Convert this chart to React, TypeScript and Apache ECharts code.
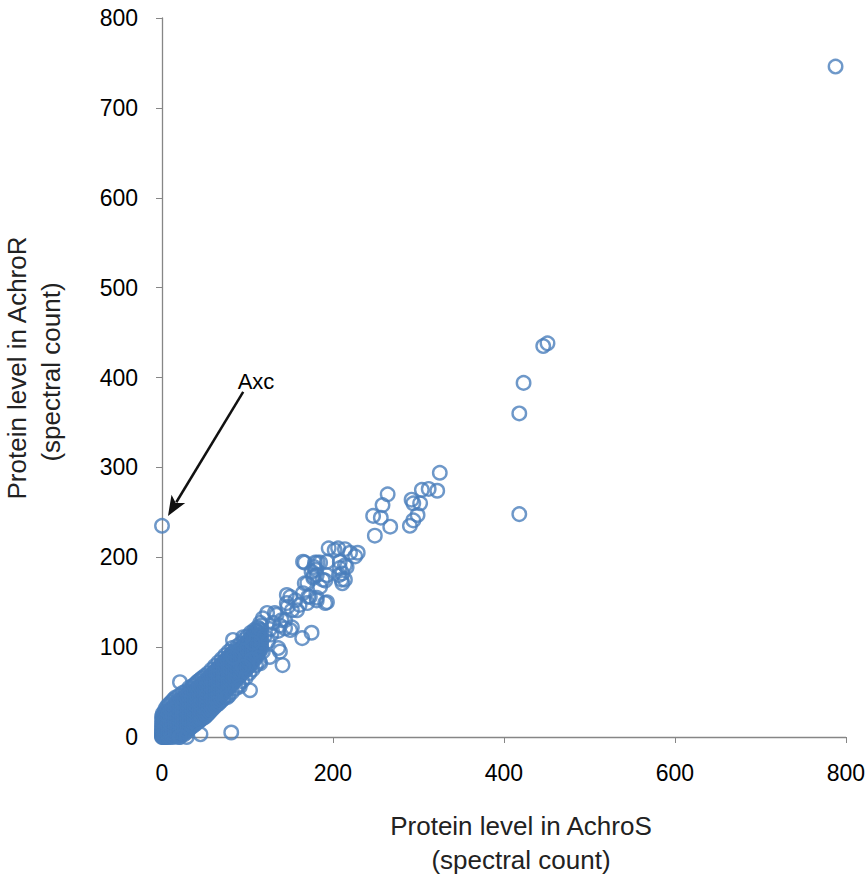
import React, { useEffect, useRef } from "react";
import * as echarts from "echarts";

// Dense core: [AchroS count, list of AchroR counts]
const denseColumns: [number, number[]][] = [
  [0, [0, 1, 2, 3, 5, 7, 9, 12, 15, 19, 23]],
  [1, [0, 1, 3, 4, 6, 8, 11, 14, 17, 21, 26]],
  [2, [0, 2, 4, 5, 7, 10, 13, 16, 20, 24]],
  [3, [0, 1, 3, 5, 8, 11, 14, 18, 22, 28]],
  [4, [0, 2, 4, 6, 9, 12, 15, 19, 24, 31]],
  [5, [1, 3, 5, 7, 10, 13, 17, 21, 26]],
  [6, [0, 2, 4, 8, 11, 14, 18, 23, 29, 34]],
  [7, [1, 3, 6, 9, 12, 16, 20, 25]],
  [8, [0, 2, 5, 7, 10, 13, 17, 22, 27, 36]],
  [10, [0, 3, 6, 9, 12, 15, 19, 24, 30, 38]],
  [12, [1, 4, 7, 10, 13, 17, 21, 26, 32, 40]],
  [14, [0, 3, 6, 9, 12, 15, 19, 23, 28, 34, 42]],
  [16, [2, 5, 8, 11, 14, 18, 22, 26, 31, 37, 44]],
  [18, [1, 4, 7, 10, 13, 16, 20, 24, 29, 34, 40]],
  [20, [0, 3, 6, 9, 12, 15, 19, 23, 27, 32, 37, 46]],
  [22, [2, 5, 8, 11, 14, 18, 22, 26, 30, 35, 41]],
  [24, [4, 7, 10, 13, 16, 20, 24, 28, 33, 38, 44, 49]],
  [26, [3, 6, 9, 12, 15, 19, 23, 27, 31, 36, 42]],
  [28, [5, 8, 11, 14, 17, 21, 25, 29, 34, 39, 45, 51]],
  [30, [7, 10, 13, 16, 20, 24, 28, 32, 37, 42, 48]],
  [32, [9, 12, 15, 18, 22, 26, 30, 34, 39, 44, 50, 55]],
  [34, [11, 14, 17, 21, 25, 29, 33, 37, 42, 47, 53]],
  [36, [12, 16, 19, 23, 27, 31, 35, 39, 44, 49, 57]],
  [38, [14, 18, 21, 25, 29, 33, 37, 41, 46, 51, 58]],
  [40, [15, 19, 23, 27, 31, 35, 39, 43, 48, 53, 60]],
  [42, [17, 21, 25, 29, 33, 37, 41, 45, 50, 55, 62]],
  [44, [18, 22, 26, 30, 34, 38, 42, 46, 51, 56, 63]],
  [46, [20, 24, 28, 32, 36, 40, 44, 48, 53, 58, 65]],
  [48, [21, 26, 30, 34, 38, 42, 46, 50, 55, 60, 66]],
  [50, [22, 27, 31, 35, 39, 43, 47, 51, 56, 61, 68]],
  [52, [24, 29, 33, 37, 41, 45, 49, 53, 58, 63]],
  [54, [26, 31, 35, 39, 43, 47, 51, 55, 60, 65, 71]],
  [56, [28, 33, 37, 41, 45, 49, 53, 57, 62, 67]],
  [58, [30, 35, 39, 43, 47, 51, 55, 59, 64, 69, 75]],
  [60, [32, 37, 41, 45, 49, 53, 57, 61, 66, 71]],
  [62, [34, 39, 43, 47, 51, 55, 59, 63, 68, 73, 79]],
  [64, [36, 41, 45, 49, 53, 57, 61, 65, 70, 75]],
  [66, [37, 43, 47, 51, 55, 59, 63, 67, 72, 77, 83]],
  [68, [39, 45, 49, 53, 57, 61, 65, 69, 74, 79]],
  [70, [41, 47, 51, 55, 59, 63, 67, 71, 76, 81, 87]],
  [72, [43, 49, 53, 57, 61, 65, 69, 73, 78, 83]],
  [74, [45, 51, 55, 59, 63, 67, 71, 75, 80, 85, 91]],
  [76, [53, 57, 61, 65, 69, 73, 77, 82, 87]],
  [78, [46, 55, 59, 63, 67, 71, 75, 79, 84, 89, 95]],
  [80, [57, 61, 65, 69, 73, 77, 81, 86, 91]],
  [82, [50, 59, 63, 67, 71, 75, 79, 83, 88, 93, 99]],
  [84, [61, 65, 69, 73, 77, 81, 85, 90, 95]],
  [86, [54, 63, 67, 71, 75, 79, 83, 87, 92, 97]],
  [88, [65, 69, 73, 77, 81, 85, 89, 94, 101]],
  [90, [58, 67, 71, 75, 79, 83, 87, 91, 96]],
  [92, [69, 73, 77, 81, 85, 89, 93, 98, 104]],
  [94, [62, 71, 75, 79, 83, 87, 91, 95, 100]],
  [96, [73, 77, 81, 85, 89, 93, 97, 102, 108]],
  [98, [66, 75, 79, 83, 87, 91, 95, 99, 104]],
  [100, [77, 81, 85, 89, 93, 97, 101, 106, 112]],
  [102, [71, 79, 83, 87, 91, 95, 99, 103, 108]],
  [104, [81, 85, 89, 93, 97, 101, 105, 110, 116]],
  [106, [75, 84, 88, 92, 96, 100, 104, 108, 113]],
  [108, [86, 90, 94, 98, 102, 106, 110, 115, 119]],
  [110, [80, 89, 93, 97, 101, 105, 109, 113, 118]],
  [112, [92, 96, 100, 104, 108, 112, 117, 122]],
  [114, [84, 95, 99, 103, 107, 111, 115, 120]],
  [116, [98, 102, 106, 110, 114, 119, 124]],
];

// Individually visible proteins: [AchroS, AchroR]
const midPoints: [number, number][] = [
  [123, 138], [132, 138], [118, 132], [115, 127], [130, 127], [140, 130], [144, 121],
  [152, 122], [134, 136], [144, 130], [152, 141], [161, 147], [146, 149], [150, 156],
  [156, 152], [165, 160], [173, 156], [181, 155], [193, 150], [171, 156], [185, 167],
  [146, 158], [147, 145], [158, 141], [170, 149], [181, 152], [191, 149], [150, 119],
  [126, 120], [120, 112], [128, 114], [136, 118], [124, 106], [138, 124],
  [175, 116], [164, 110], [136, 99], [141, 80], [138, 95], [126, 89], [118, 95],
  [106, 105], [95, 111], [83, 108], [105, 86], [95, 78], [115, 82], [83, 89],
  [103, 52], [91, 56], [76, 44], [81, 5], [45, 3], [29, 0], [21, 0], [21, 61],
];

const upperPoints: [number, number][] = [
  [167, 171], [170, 171], [175, 184], [181, 180], [177, 177], [188, 175], [191, 174],
  [177, 179], [180, 186], [178, 189], [211, 171], [216, 189], [211, 182], [214, 175],
  [193, 180], [207, 180], [210, 175], [208, 195], [208, 188], [214, 191],
  [165, 195], [167, 194], [179, 194], [182, 194], [185, 194], [193, 195],
  [195, 210], [202, 208], [214, 209], [220, 205], [229, 205], [226, 201], [206, 210],
];

const highPoints: [number, number][] = [
  [264, 270], [258, 258], [247, 246], [256, 244], [267, 234], [249, 224],
  [325, 294], [292, 264], [294, 260], [304, 275], [312, 276], [322, 274],
  [302, 260], [299, 247], [294, 241], [290, 235],
  [451, 438], [446, 435], [423, 394], [418, 360], [418, 248], [788, 746],
];

// Axc outlier
const axcPoint: [number, number] = [0, 235];
// Annotation arrow (data coordinates): from near the label to just above Axc
const arrowFrom: [number, number] = [95, 384];
const arrowTo: [number, number] = [7, 246];
const axcLabelAt: [number, number] = [110, 396];

const xTicks = { min: 0, max: 800, interval: 200 };
const yTicks = { min: 0, max: 800, interval: 100 };

const FONT = "Liberation Sans, Arial, sans-serif";

export default function App() {
  const ref = useRef<HTMLDivElement>(null);
  useEffect(() => {
    if (!ref.current) return;
    const chart = echarts.init(ref.current, undefined, { renderer: "svg" });
    const dense: [number, number][] = [];
    denseColumns.forEach(([x, ys]) => ys.forEach((y) => dense.push([x, y])));
    const data = [...dense, ...midPoints, ...upperPoints, ...highPoints, axcPoint];
    const axisLine = { show: true, lineStyle: { color: "#868686", width: 1.3 } };
    const labelFont = { color: "#000", fontSize: 23, fontFamily: FONT };
    const titleStyle = {
      fontSize: 26,
      fontFamily: FONT,
      fill: "#222",
      textAlign: "center",
      textVerticalAlign: "middle",
    };
    chart.setOption({
      animation: false,
      backgroundColor: "#fff",
      grid: { left: 162, right: 22, top: 18, bottom: 140, containLabel: false },
      xAxis: {
        type: "value",
        ...xTicks,
        axisLine,
        axisTick: { show: true, inside: false, length: 6, lineStyle: { color: "#868686" } },
        axisLabel: { ...labelFont, margin: 24 },
        splitLine: { show: false },
      },
      yAxis: {
        type: "value",
        ...yTicks,
        axisLine,
        axisTick: { show: true, inside: false, length: 6, lineStyle: { color: "#868686" } },
        axisLabel: { ...labelFont, margin: 24 },
        splitLine: { show: false },
      },
      graphic: [
        { id: "xt1", type: "text", x: 521, y: 826, style: { ...titleStyle, text: "Protein level in AchroS" } },
        { id: "xt2", type: "text", x: 521, y: 860, style: { ...titleStyle, text: "(spectral count)" } },
        {
          id: "yt1", type: "text", x: 17, y: 368, rotation: Math.PI / 2,
          style: { ...titleStyle, text: "Protein level in AchroR" },
        },
        {
          id: "yt2", type: "text", x: 51, y: 372, rotation: Math.PI / 2,
          style: { ...titleStyle, text: "(spectral count)" },
        },
      ],
      series: [
        {
          type: "scatter",
          data,
          clip: false,
          symbol: "circle",
          symbolSize: 13.5,
          itemStyle: { color: "rgba(0,0,0,0)", borderColor: "#4A7EBB", borderWidth: 2.4 },
          emphasis: { disabled: true },
        },
      ],
    });
    // Annotation arrow, positioned through the grid's own scales
    const p1 = chart.convertToPixel({ gridIndex: 0 }, arrowFrom) as number[];
    const p2 = chart.convertToPixel({ gridIndex: 0 }, arrowTo) as number[];
    const pl = chart.convertToPixel({ gridIndex: 0 }, axcLabelAt) as number[];
    const dx = p2[0] - p1[0];
    const dy = p2[1] - p1[1];
    const len = Math.hypot(dx, dy);
    const ux = dx / len;
    const uy = dy / len;
    const headLen = 20;
    const headHalf = 8;
    const bx = p2[0] - ux * headLen;
    const by = p2[1] - uy * headLen;
    chart.setOption({
      graphic: [
        {
          id: "arrowLine",
          type: "line",
          shape: { x1: p1[0], y1: p1[1], x2: bx + ux * 4, y2: by + uy * 4 },
          style: { stroke: "#111", lineWidth: 2.5 },
          silent: true,
        },
        {
          id: "arrowHead",
          type: "polygon",
          shape: {
            points: [
              [p2[0], p2[1]],
              [bx - uy * headHalf, by + ux * headHalf],
              [bx + ux * 5, by + uy * 5],
              [bx + uy * headHalf, by - ux * headHalf],
            ],
          },
          style: { fill: "#111" },
          silent: true,
        },
        {
          id: "axcLabel",
          type: "text",
          x: pl[0],
          y: pl[1],
          style: {
            text: "Axc",
            fontSize: 22,
            fontFamily: FONT,
            fill: "#000",
            textAlign: "center",
            textVerticalAlign: "middle",
          },
          silent: true,
        },
      ],
    });
    return () => chart.dispose();
  }, []);
  return (
    <div
      ref={ref}
      style={{ position: "absolute", left: 0, top: 0, width: 868, height: 877 }}
    />
  );
}
